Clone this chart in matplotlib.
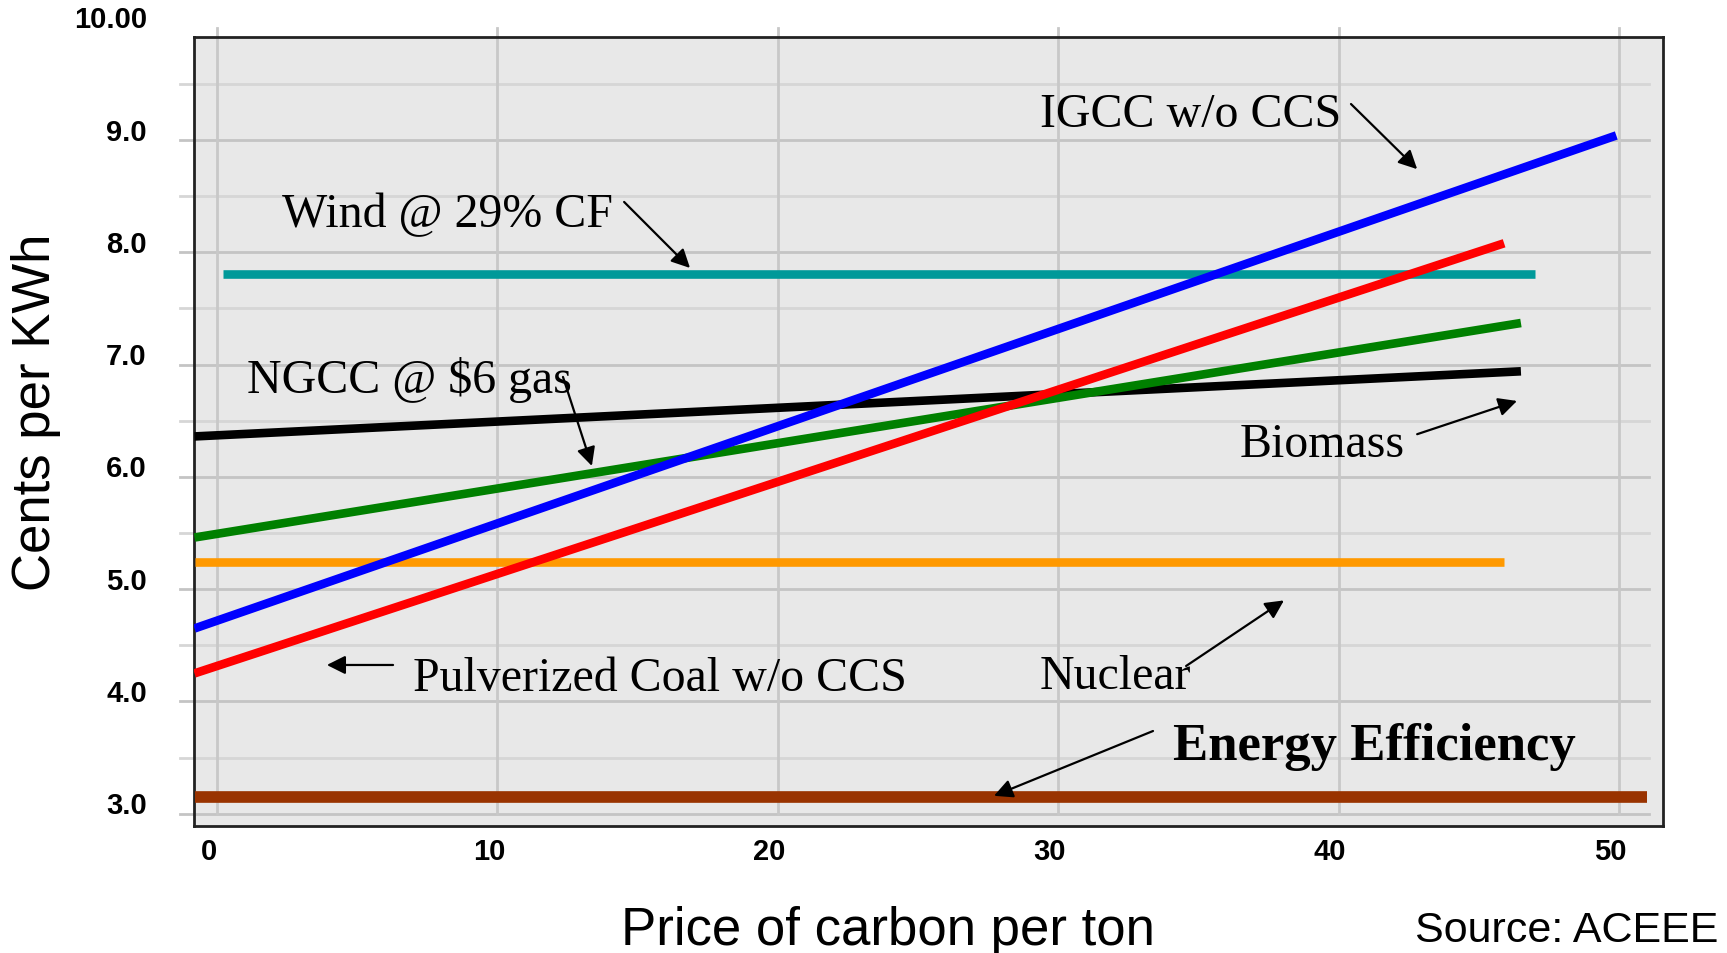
import numpy as np
import matplotlib
matplotlib.use('Agg')
import matplotlib.pyplot as plt

# data (cents per kWh vs. $ per ton of carbon)
igcc_x = [-0.8, 49.9]
igcc_y = [4.65, 9.04]
coal_x = [-0.8, 45.9]
coal_y = [4.25, 8.08]
biomass_x = [-0.8, 46.5]
biomass_y = [5.46, 7.37]
ngcc_x = [-0.8, 46.5]
ngcc_y = [6.36, 6.94]
nuclear_x = [-0.8, 45.9]
nuclear_y = [5.24, 5.24]
wind_x = [0.2, 47.0]
wind_y = [7.81, 7.81]
eff_x = [-0.8, 51.0]
eff_y = [3.15, 3.15]

x_ticks = [0, 10, 20, 30, 40, 50]
y_ticks = [3.0, 4.0, 5.0, 6.0, 7.0, 8.0, 9.0, 10.0]
y_tick_labels = ['3.0', '4.0', '5.0', '6.0', '7.0', '8.0', '9.0', '10.00']

serif = ['Liberation Serif', 'DejaVu Serif']
sans = ['Liberation Sans', 'DejaVu Sans']

fig = plt.figure(figsize=(17.27, 9.54), dpi=100)
ax = fig.add_axes([0.1123, 0.1331, 0.8507, 0.8271])
ax.set_facecolor('#E8E8E8')
ax.set_xlim(-0.82, 51.57)
ax.set_ylim(2.891, 9.917)
ax.set_xticks([])
ax.set_yticks([])
for s in ax.spines.values():
    s.set_linewidth(2)
    s.set_color('#222222')

# grid, drawn like the original slide chart (sticks out past the frame)
for v in np.arange(3.0, 9.51, 0.5):
    major = abs(v - round(v)) < 1e-6
    ax.plot([-1.3, 51.05], [v, v], color='#C4C4C4' if major else '#D6D6D6',
            lw=2, clip_on=False, zorder=1)
for xv in x_ticks:
    ax.plot([xv, xv], [3.0, 10.0], color='#C8C8C8', lw=2, clip_on=False, zorder=1)

# tick labels
for v, lab in zip(y_ticks, y_tick_labels):
    ax.text(-2.5, v + 0.075, lab, ha='right', va='center', fontsize=21,
            fontweight='bold', family=sans, clip_on=False)
for xv in x_ticks:
    ax.text(xv - 0.3, 2.67, str(xv), ha='center', va='center', fontsize=21,
            fontweight='bold', family=sans, clip_on=False)

lw = 6.2
ax.plot(eff_x, eff_y, color='#993300', lw=8.4, solid_capstyle='butt', zorder=3)
ax.plot(nuclear_x, nuclear_y, color='#FF9900', lw=lw, solid_capstyle='butt', zorder=3)
ax.plot(wind_x, wind_y, color='#009999', lw=lw, solid_capstyle='butt', zorder=3)
ax.plot(ngcc_x, ngcc_y, color='black', lw=lw, solid_capstyle='butt', zorder=3)
ax.plot(biomass_x, biomass_y, color='#008000', lw=lw, solid_capstyle='butt', zorder=3)
ax.plot(igcc_x, igcc_y, color='#0000FF', lw=lw, solid_capstyle='butt', zorder=3)
ax.plot(coal_x, coal_y, color='#FF0000', lw=lw, solid_capstyle='butt', zorder=3)

# labels with arrows
def label(txt, xy_text, start, end, size=34.5, weight='normal'):
    ax.text(xy_text[0], xy_text[1], txt, ha='left', va='baseline', fontsize=size,
            fontweight=weight, family=serif, zorder=5)
    ax.annotate('', xy=end, xytext=start,
                arrowprops=dict(arrowstyle='-|>', color='black', lw=1.6,
                                mutation_scale=28, shrinkA=0, shrinkB=0),
                zorder=5)

label('IGCC w/o CCS', (29.35, 9.125), (40.44, 9.32), (42.80, 8.74))
label('Wind @ 29% CF', (2.32, 8.234), (14.52, 8.448), (16.87, 7.86))
label('NGCC @ $6 gas', (1.07, 6.756), (12.34, 6.89), (13.37, 6.097))
label('Biomass', (36.48, 6.186), (42.80, 6.38), (46.36, 6.676))
label('Pulverized Coal w/o CCS', (6.99, 4.10), (6.28, 4.325), (3.92, 4.325))
label('Nuclear', (29.35, 4.12), (34.56, 4.316), (38.05, 4.90))
label('Energy Efficiency', (34.09, 3.488), (33.38, 3.737), (27.71, 3.16),
      size=38, weight='bold')

fig.text(0.021, 0.568, 'Cents per KWh', rotation=90, ha='center', va='center',
         fontsize=38, family=sans)
fig.text(0.514, 0.024, 'Price of carbon per ton', ha='center', va='center',
         fontsize=38, family=sans)
fig.text(0.995, 0.024, 'Source: ACEEE', ha='right', va='center',
         fontsize=31, family=sans)

fig.savefig('out.png', dpi=100)
